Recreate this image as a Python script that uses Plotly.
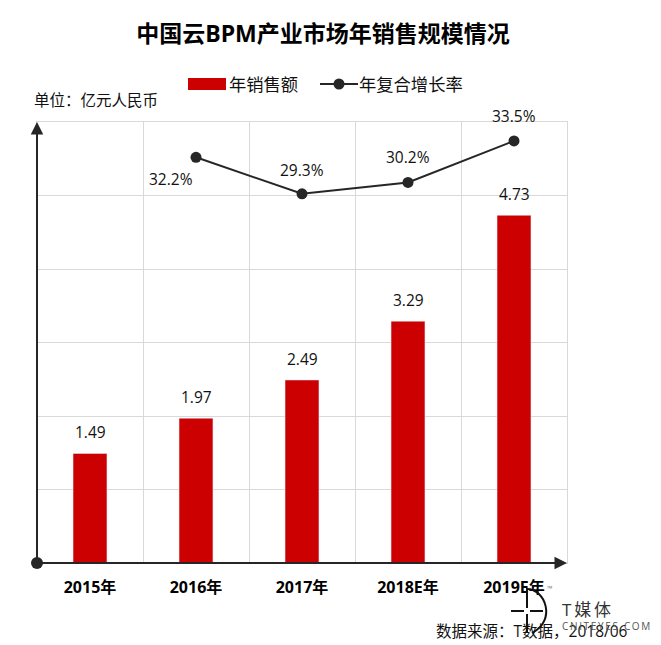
import plotly.graph_objects as go

years = ["2015年", "2016年", "2017年", "2018E年", "2019E年"]
sales = [1.49, 1.97, 2.49, 3.29, 4.73]
growth = [None, 32.2, 29.3, 30.2, 33.5]
growth_shift = [None, (-25, -22), (0, 24), (0, 25), (0, 25)]

FONT = "Open Sans, Noto Sans CJK SC"
DARK = "#262626"
RED = "#cc0000"
GRID = "#d9d9d9"
W, H = 661, 645
L, R, T, B = 37, 567, 122, 563


# page pixels -> paper coords, for the furniture outside the plot area
def px(x):
    return (x - L) / (R - L)


def py(y):
    return (B - y) / (B - T)


def label(x, y, text, size=15.5, color="#111111", anchor="left"):
    # left anchored annotations sit 3px right of their anchor
    fig.add_annotation(x=px(x - 3), y=py(y), xref="paper", yref="paper", text=text, showarrow=False,
                       xanchor=anchor, yanchor="middle", font=dict(family=FONT, size=size, color=color))


fig = go.Figure()
fig.add_trace(go.Bar(x=years, y=sales, name="年销售额", marker_color=RED, width=0.32))
fig.add_trace(go.Scatter(x=years, y=growth, name="年复合增长率", yaxis="y2", mode="lines+markers",
                         line=dict(color=DARK, width=2), marker=dict(color=DARK, size=11)))

for year, value in zip(years, sales):
    fig.add_annotation(x=year, y=value, text=f"{value:.2f}", showarrow=False, yshift=21,
                       font=dict(family=FONT, size=15.5, color="#111111"))
for year, value, shift in zip(years, growth, growth_shift):
    if value is not None:
        fig.add_annotation(x=year, y=value, yref="y2", text=f"{value}%", showarrow=False,
                           xshift=shift[0], yshift=shift[1],
                           font=dict(family=FONT, size=15.5, color="#111111"))

# axis arrows and the dot on the origin
fig.add_annotation(x=0, y=1, xref="paper", yref="paper", ax=0, ay=B - T, text="", showarrow=True,
                   arrowhead=2, arrowsize=1.25, arrowwidth=2, arrowcolor=DARK)
fig.add_annotation(x=1, y=0, xref="paper", yref="paper", ax=-(R - L), ay=0, text="", showarrow=True,
                   arrowhead=2, arrowsize=1.25, arrowwidth=2, arrowcolor=DARK)
fig.add_shape(type="circle", xref="paper", yref="paper", xsizemode="pixel", ysizemode="pixel",
              xanchor=0, yanchor=0, x0=-6, x1=6, y0=-6, y1=6, fillcolor=DARK, line_width=0)

# legend drawn by hand, the bar key is wider than plotly's square one
fig.add_shape(type="rect", xref="paper", yref="paper", x0=px(188), x1=px(226), y0=py(90), y1=py(78),
              fillcolor=RED, line_width=0)
fig.add_shape(type="line", xref="paper", yref="paper", x0=px(320), x1=px(358), y0=py(84), y1=py(84),
              line=dict(color=DARK, width=2))
fig.add_shape(type="circle", xref="paper", yref="paper", x0=px(333.5), x1=px(344.5), y0=py(89.5), y1=py(78.5),
              fillcolor=DARK, line_width=0)
label(230, 84, "年销售额", size=17.3)
label(360, 84, "年复合增长率", size=17.3)

label(35, 100, "单位：亿元人民币")
label(437, 631, "数据来源：T数据，2018/06")

# watermark logo
for x0, y0, x1, y1 in [(527, 588, 527, 608), (527, 614, 527, 633), (511, 611, 524, 611), (530, 611, 543, 611)]:
    fig.add_shape(type="line", xref="paper", yref="paper", x0=px(x0), x1=px(x1), y0=py(y0), y1=py(y1),
                  line=dict(color="#111111", width=2))
fig.add_shape(type="path", xref="paper", yref="paper", line=dict(color="#111111", width=2),
              path=f"M {px(527)} {py(589)} C {px(545)} {py(589)} {px(557)} {py(620)} {px(532)} {py(633)}")
label(563, 609, "T\u2009媒\u2009体", size=17, color="#333333")
label(563, 626, "\u2009".join("CNITEYES.COM"), size=10, color="#555555")
label(548, 588, "™", size=7, color="#777777")

fig.update_layout(
    width=W, height=H, margin=dict(l=L, r=W - R, t=T, b=H - B, pad=0),
    title=dict(text="<b>中国云BPM产业市场年销售规模情况</b>", x=323 / W, xanchor="center", y=1 - 34 / H, yanchor="middle",
               font=dict(family=FONT, size=23, color="#000000")),
    showlegend=False, plot_bgcolor="white", paper_bgcolor="white",
    xaxis=dict(type="category", range=[-0.5, 4.5], tickson="boundaries", showgrid=True, gridcolor=GRID,
               gridwidth=1, ticks="", ticklabelstandoff=10, showline=True, mirror=True, linecolor=GRID,
               linewidth=1, zeroline=False,
               tickfont=dict(family=FONT, size=16, color="#000000", weight="bold")),
    yaxis=dict(range=[0, 6], dtick=1, showgrid=True, gridcolor=GRID, gridwidth=1, showticklabels=False,
               showline=True, mirror=True, linecolor=GRID, linewidth=1, zeroline=False, ticks=""),
    yaxis2=dict(range=[0, 35], overlaying="y", side="right", visible=False),
)

fig.write_html("out.html", config={"displayModeBar": False},
               post_script="document.body.style.margin='0';document.body.style.overflow='hidden';")
